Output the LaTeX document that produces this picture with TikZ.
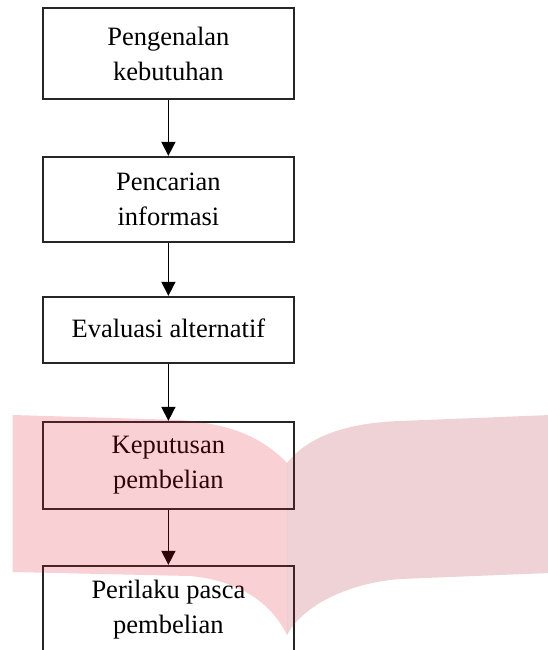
\documentclass[tikz,border=0pt]{standalone}
\usepackage{fontspec}
\setmainfont{Liberation Serif}
\usetikzlibrary{positioning,arrows.meta}
\definecolor{markred}{RGB}{225,25,40}
\definecolor{markrose}{RGB}{170,30,45}

\begin{document}
\begin{tikzpicture}[x=1pt, y=-1pt,
  stage/.style={draw=black!85, line width=1.7pt, minimum width=251pt, inner sep=0pt, align=center, font=\fontsize{26.5}{35}\selectfont},
  flow/.style={draw=black, line width=1.6pt, -{Triangle[width=14pt,length=14pt]}},
  markleft/.style={fill=markred, fill opacity=0.2},
  markright/.style={fill=markrose, fill opacity=0.2}
]
\useasboundingbox (0,0) rectangle (548,650);

\node[stage, minimum height=91pt] (need) at (168.4,53.8) {Pengenalan\\kebutuhan};
\node[stage, minimum height=85pt] (search) at (168.4,199.2) {Pencarian\\informasi};
\node[stage, minimum height=66.6pt] (eval) at (168.4,330) {\raisebox{4pt}{Evaluasi alternatif}};
\node[stage, minimum height=87.6pt] (decide) at (168.4,465.5) {Keputusan\\pembelian};
\node[stage, minimum height=87.6pt] (after) at (168.4,609.5) {Perilaku pasca\\pembelian};

\draw[flow] (need) -- (search);
\draw[flow] (search) -- (eval);
\draw[flow] (eval) -- (decide);
\draw[flow] (decide) -- (after);

% watermark
\fill[markleft] (12.7,415) -- (180,420) .. controls (235,424) and (265,440) .. (287,463)
  -- (287,635) .. controls (270,600) and (235,580) .. (190,576) -- (12.7,572) -- cycle;
\fill[markright] (287,463) .. controls (305,440) and (340,423) .. (400,421) -- (550,415)
  -- (550,573) -- (400,579) .. controls (340,584) and (300,610) .. (287,635) -- cycle;

\end{tikzpicture}
\end{document}
